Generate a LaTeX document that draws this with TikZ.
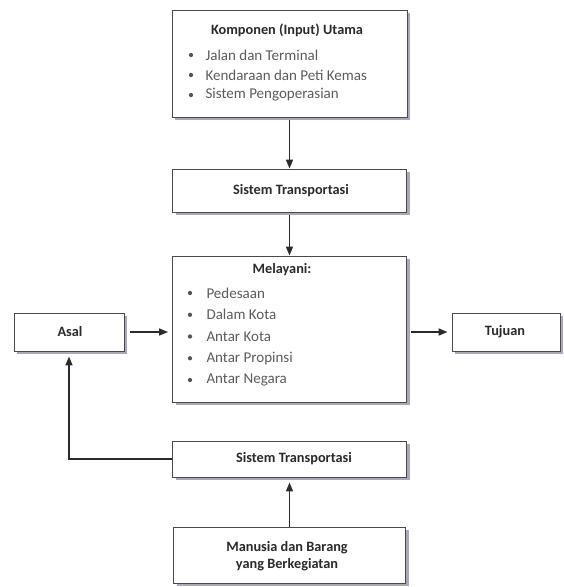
\documentclass[tikz,border=0pt]{standalone}
\usepackage{fontspec}
\setmainfont{Carlito}
\usetikzlibrary{arrows.meta,shadows}
\definecolor{ink}{HTML}{2B2B2B}
\definecolor{muted}{HTML}{5C5C5C}
\definecolor{edge}{HTML}{4A4A4A}
\definecolor{shade}{HTML}{A9A9BC}
\tikzset{
  box/.style={draw=edge, fill=white, line width=0.9pt, inner sep=0pt,
    drop shadow={shadow xshift=3pt, shadow yshift=-3pt, fill=shade, opacity=1}},
  flow/.style={draw=ink, line width=1.6pt, -{Triangle[length=9pt,width=7pt]}},
  head/.style={text=ink, font=\bfseries\fontsize{14.3}{17}\selectfont},
  item/.style={text=muted, font=\fontsize{15}{17}\selectfont, anchor=west},
  bul/.style={circle, fill=ink!80, inner sep=1.5pt}
}

\begin{document}
\begin{tikzpicture}[x=1pt,y=-1pt]
  \useasboundingbox (0,0) rectangle (564,587);
  % boxes
  \node[box, minimum width=235pt, minimum height=107pt] (komp) at (289.5,63.5) {};
  \node[box, minimum width=234pt, minimum height=43pt] (sisA) at (289.5,190.5) {};
  \node[box, minimum width=234pt, minimum height=146pt] (mel) at (289.5,329) {};
  \node[box, minimum width=110pt, minimum height=38pt] (asal) at (69,332) {};
  \node[box, minimum width=108pt, minimum height=38pt] (tuj) at (506,332) {};
  \node[box, minimum width=234pt, minimum height=36pt] (sisB) at (289.5,459) {};
  \node[box, minimum width=232pt, minimum height=56pt] (man) at (289.5,555) {};

  % texts
  \node[head] (kompT) at (287,30) {Komponen (Input) Utama};
  \foreach \t [count=\i] in {Jalan dan Terminal, Kendaraan dan Peti Kemas, Sistem Pengoperasian} {
    \node[bul] (kb\i) at (191,{35+20*\i}) {};
    \node[item] (ki\i) at (202,{35+20*\i}) {\t};
  }
  \node[head] (sisAT) at (291,190.5) {Sistem Transportasi};
  \node[head] (melT) at (282,270) {Melayani:};
  \foreach \t [count=\i] in {Pedesaan, Dalam Kota, Antar Kota, Antar Propinsi, Antar Negara} {
    \node[bul] (mb\i) at (190,{271.25+21.75*\i}) {};
    \node[item] (mi\i) at (203,{271.25+21.75*\i}) {\t};
  }
  \node[head] (asalT) at (70,332) {Asal};
  \node[head] (tujT) at (505,332) {Tujuan};
  \node[head] (sisBT) at (294,459) {Sistem Transportasi};
  \node[head, align=center] (manT) at (287,556) {Manusia dan Barang\\yang Berkegiatan};

  % connectors
  \draw[flow, shorten <=3pt] (komp.south) -- (sisA.north);
  \draw[flow, shorten <=3pt] (sisA.south) -- (mel.north);
  \draw[flow, shorten <=6pt, shorten >=4pt] (asal.east) -- (asal.east -| mel.west);
  \draw[flow, shorten <=4pt, shorten >=4pt] (tuj.west -| mel.east) -- (tuj.west);
  \draw[flow, shorten >=5pt] (sisB.west) -| (asal.south);
  \draw[flow, shorten >=5pt] (man.north) -- (sisB.south);
\end{tikzpicture}
\end{document}
